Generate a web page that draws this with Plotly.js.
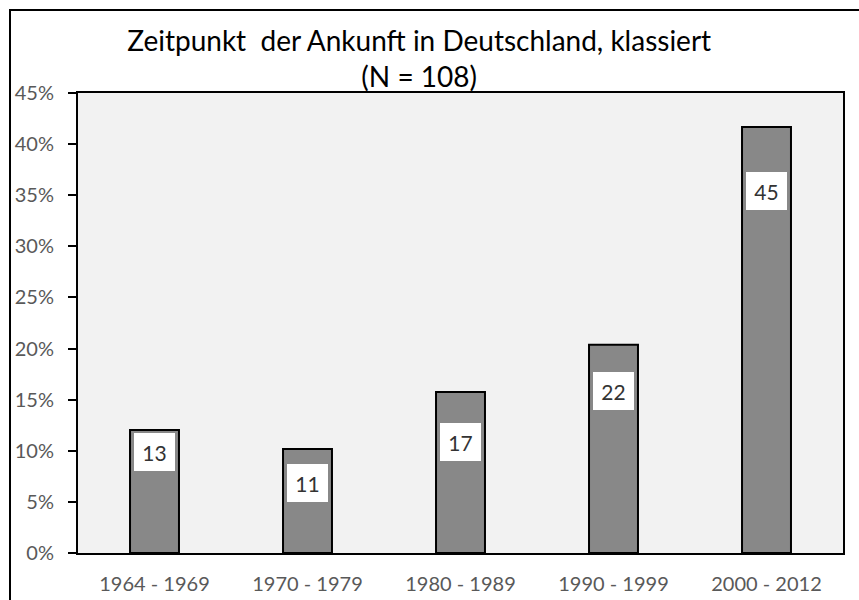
<!DOCTYPE html>
<html>
<head>
<meta charset="utf-8">
<script src="https://cdn.plot.ly/plotly-3.0.1.min.js"></script>
<style>
  html, body { margin: 0; padding: 0; background: #ffffff; overflow: hidden; }
  #wrap { position: relative; width: 859px; height: 600px; }
  #chart { position: absolute; left: 0; top: 0; width: 859px; height: 600px; }
  #frame { position: absolute; left: 9px; top: 9px; width: 900px; height: 700px;
           border: 2px solid #000; pointer-events: none; }
</style>
</head>
<body>
<div id="wrap">
  <div id="chart"></div>
  <div id="frame"></div>
</div>
<script>
// ---- data ----
const categories = ["1964 - 1969", "1970 - 1979", "1980 - 1989", "1990 - 1999", "2000 - 2012"];
const counts = [13, 11, 17, 22, 45];
const total = 108;
const percents = counts.map(c => c / total * 100);

// ---- label placement (fraction of bar height) ----
const labelFrac = [0.82, 0.67, 0.69, 0.78, 0.85];

const FONT = "Lato, 'Open Sans', sans-serif";

const trace = {
  type: "bar",
  x: categories,
  y: percents,
  width: 0.32,
  marker: { color: "#888888", line: { color: "#000000", width: 2 } },
  hoverinfo: "none"
};

const annotations = categories.map((cat, i) => ({
  x: cat,
  y: percents[i] * labelFrac[i],
  xref: "x",
  yref: "y",
  text: String(counts[i]),
  showarrow: false,
  bgcolor: "#ffffff",
  width: 41,
  height: 38,
  borderpad: 0,
  borderwidth: 0,
  font: { family: FONT, size: 21, color: "#333333" }
}));

const layout = {
  width: 859,
  height: 600,
  margin: { l: 78, r: 16, t: 93, b: 47, pad: 0 },
  paper_bgcolor: "#ffffff",
  plot_bgcolor: "#f2f2f2",
  font: { family: FONT },
  showlegend: false,
  title: {
    text: "Zeitpunkt&nbsp; der Ankunft in Deutschland, klassiert<br>(N = 108)",
    font: { family: FONT, size: 28, color: "#000000" },
    x: 0.488,
    xref: "container",
    xanchor: "center",
    y: 0.915,
    yref: "container",
    yanchor: "top"
  },
  xaxis: {
    type: "category",
    showline: true,
    linecolor: "#000000",
    linewidth: 2,
    mirror: true,
    ticks: "",
    showgrid: false,
    zeroline: false,
    tickfont: { family: FONT, size: 20, color: "#595959" },
    ticklabelstandoff: 12
  },
  yaxis: {
    range: [0, 45],
    dtick: 5,
    tick0: 0,
    ticksuffix: "%",
    showline: true,
    linecolor: "#000000",
    linewidth: 2,
    mirror: true,
    ticks: "outside",
    ticklen: 8,
    tickwidth: 2,
    tickcolor: "#000000",
    showgrid: false,
    zeroline: false,
    tickfont: { family: FONT, size: 20, color: "#595959" },
    ticklabelstandoff: 10
  },
  annotations: annotations
};

Plotly.newPlot("chart", [trace], layout, { displayModeBar: false, staticPlot: true });
</script>
</body>
</html>
